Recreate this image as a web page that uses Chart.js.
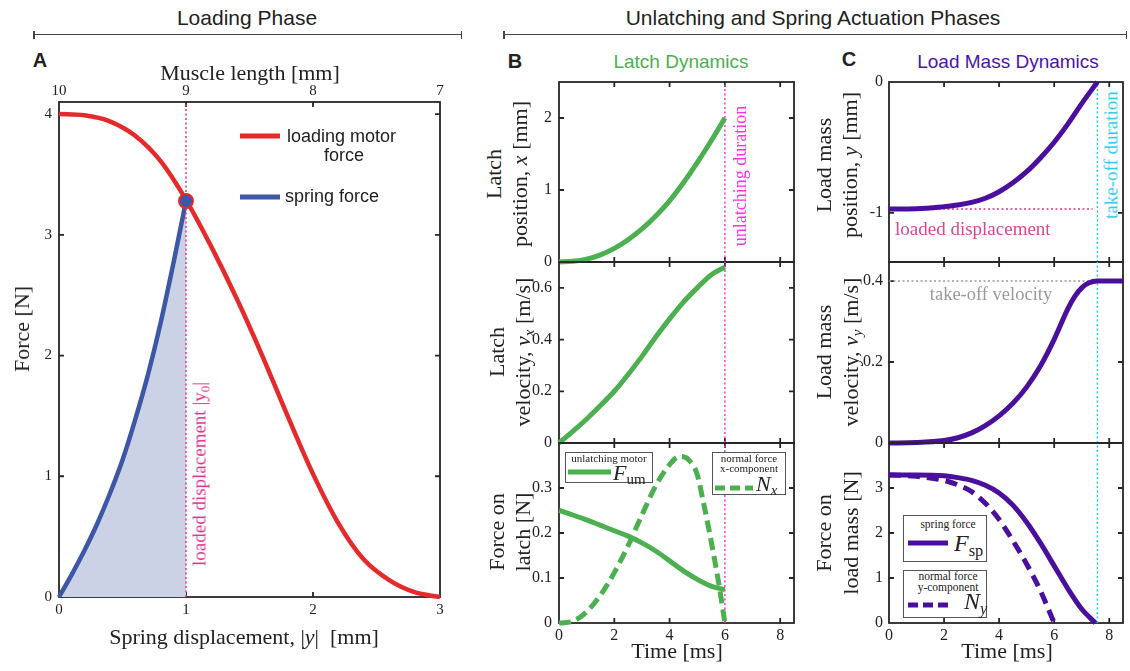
<!DOCTYPE html>
<html>
<head>
<meta charset="utf-8">
<script src="https://cdn.jsdelivr.net/npm/chart.js@4.4.1/dist/chart.umd.min.js"></script>
<style>
  body { margin: 0; background: #fff; width: 1130px; height: 671px; overflow: hidden; position: relative; }
  canvas { position: absolute; }
  sub { font-size: 68%; vertical-align: -0.28em; line-height: 0; }
</style>
</head>
<body>
<script>
// ---- A: loading phase (x = spring displacement, mm) ----
const dispRed = [0, 0.2, 0.4, 0.6, 0.8, 1.0, 1.2, 1.4, 1.6, 1.8, 2.0, 2.2, 2.4, 2.6, 2.8, 3.0];
const motorForce = [4.00, 3.99, 3.94, 3.82, 3.61, 3.29, 2.90, 2.47, 2.00, 1.50, 1.02, 0.61, 0.31, 0.14, 0.04, 0.00];
const dispBlue = [0, 0.1, 0.2, 0.3, 0.4, 0.5, 0.6, 0.7, 0.8, 0.9, 1.0];
const springForce = [0, 0.185, 0.385, 0.605, 0.855, 1.135, 1.47, 1.84, 2.27, 2.76, 3.28];
const loadedDisp = 1.0;
const loadedForce = 3.28;
const dispTicks = [0, 1, 2, 3];
const muscleTicks = [10, 9, 8, 7];
const forceTicksA = [0, 1, 2, 3, 4];

// ---- B: latch dynamics (t in ms) ----
const latchT = [0, 0.5, 1, 1.5, 2, 2.5, 3, 3.5, 4, 4.5, 5, 5.5, 6];
const latchPos = [0, 0.01, 0.04, 0.10, 0.19, 0.31, 0.46, 0.64, 0.85, 1.10, 1.38, 1.68, 2.00];
const latchVel = [0, 0.045, 0.093, 0.145, 0.20, 0.265, 0.335, 0.41, 0.48, 0.545, 0.60, 0.65, 0.68];
const motorFum = [0.25, 0.24, 0.229, 0.217, 0.205, 0.193, 0.178, 0.16, 0.138, 0.116, 0.097, 0.082, 0.074];
const nxT = [0, 0.5, 1, 1.5, 2, 2.5, 3, 3.5, 4, 4.35, 4.7, 5, 5.2, 5.4, 5.6, 5.8, 6];
const normalNx = [0, 0.004, 0.025, 0.062, 0.112, 0.172, 0.24, 0.305, 0.352, 0.37, 0.362, 0.33, 0.275, 0.215, 0.15, 0.08, 0];
const unlatchT = 6;

// ---- C: load mass dynamics ----
const massT = [0, 1, 2, 2.5, 3, 3.5, 4, 4.5, 5, 5.5, 6, 6.5, 7, 7.57];
const massPos = [-0.97, -0.968, -0.952, -0.94, -0.92, -0.888, -0.838, -0.77, -0.685, -0.58, -0.46, -0.32, -0.165, 0];
const velT = [0, 1, 2, 2.5, 3, 3.5, 4, 4.5, 5, 5.5, 6, 6.5, 6.75, 7, 7.25, 7.57, 8.5];
const massVel = [0, 0.001, 0.006, 0.013, 0.025, 0.043, 0.067, 0.098, 0.138, 0.19, 0.256, 0.332, 0.362, 0.383, 0.395, 0.40, 0.40];
const fspT = [0, 1, 2, 2.5, 3, 3.5, 4, 4.5, 5, 5.5, 6, 6.5, 7, 7.5];
const springFsp = [3.29, 3.29, 3.27, 3.23, 3.17, 3.06, 2.89, 2.62, 2.24, 1.78, 1.27, 0.76, 0.31, 0];
const nyT = [0, 0.5, 1, 1.5, 2, 2.5, 3, 3.5, 4, 4.5, 5, 5.5, 6];
const normalNy = [3.29, 3.28, 3.26, 3.22, 3.17, 3.07, 2.92, 2.66, 2.30, 1.83, 1.31, 0.72, 0];
const takeoffT = 7.57;
const takeoffV = 0.40;
const loadedY = -0.97;

const timeTicks = [0, 2, 4, 6, 8];
const timeLabels = ['0', '2', '4', '6', '8'];

const SERIF = "'Liberation Serif', 'Times New Roman', serif";
const SANS = "'Liberation Sans', Arial, sans-serif";
const RED = '#e62a2b', BLUE = '#3d56a6', FILL = '#cbd2e6';
const GREEN = '#4caf50', PURPLE = '#4a0f9c';
const PINK = '#e0338f', MAGENTA = '#ff33dd', CYAN = '#2ec5ec', GRAY = '#9a9a9a';

Chart.defaults.font.family = SERIF;
Chart.defaults.color = '#222';

// box frame with inward ticks on all four sides
const frame = {
  id: 'frame',
  beforeDatasetsDraw(chart, args, o) {
    const { ctx, chartArea: a, scales } = chart;
    const tl = 5;
    ctx.save();
    ctx.strokeStyle = '#262626';
    ctx.lineWidth = 1.8;
    ctx.beginPath();
    o.xt.forEach(v => {
      const p = scales.x.getPixelForValue(v);
      ctx.moveTo(p, a.bottom); ctx.lineTo(p, a.bottom - tl);
      ctx.moveTo(p, a.top); ctx.lineTo(p, a.top + tl);
    });
    o.yt.forEach(v => {
      const p = scales.y.getPixelForValue(v);
      ctx.moveTo(a.left, p); ctx.lineTo(a.left + tl, p);
      ctx.moveTo(a.right, p); ctx.lineTo(a.right - tl, p);
    });
    ctx.stroke();
    ctx.strokeRect(a.left, a.top, a.right - a.left, a.bottom - a.top);
    ctx.restore();
  }
};

const pts = (xs, ys) => xs.map((x, i) => ({ x, y: ys[i] }));

function curve(data, color, width, dash) {
  return { data, borderColor: color, borderWidth: width, borderDash: dash || [], pointRadius: 0,
    fill: false, cubicInterpolationMode: 'monotone', clip: false, borderCapStyle: 'butt' };
}
function refLine(data, color) {
  return { data, borderColor: color, borderWidth: 1.5, borderDash: [2, 2.5], pointRadius: 0,
    tension: 0, fill: false, clip: false };
}

function linScale(pos, s, size, fs, pad) {
  const horiz = pos === 'bottom' || pos === 'top';
  return {
    type: 'linear', position: pos, min: s.min, max: s.max, reverse: !!s.reverse,
    grid: { display: false, drawTicks: false }, border: { display: false },
    ticks: { display: !!s.labels, padding: pad, font: { size: fs, family: SERIF }, color: '#222',
      maxRotation: 0, autoSkip: false, callback: (v, i) => (s.labels ? s.labels[i] : '') },
    afterBuildTicks: sc => { sc.ticks = s.ticks.map(v => ({ value: v })); },
    afterFit: sc => {
      if (horiz) { sc.height = size; sc.paddingLeft = 0; sc.paddingRight = 0; }
      else { sc.width = size; sc.paddingTop = 0; sc.paddingBottom = 0; }
    }
  };
}

function plot(box, m, xs, ys, datasets, o) {
  const cv = document.createElement('canvas');
  const w = box.r - box.l + m.l + m.r, h = box.b - box.t + m.t + m.b;
  cv.width = w; cv.height = h;
  cv.style.left = (box.l - m.l) + 'px'; cv.style.top = (box.t - m.t) + 'px';
  cv.style.width = w + 'px'; cv.style.height = h + 'px';
  document.body.appendChild(cv);
  const scales = {
    x: linScale('bottom', xs, m.b, o.fs, o.xpad),
    y: linScale('left', ys, m.l, o.fs, o.ypad)
  };
  if (o.top) scales.x2 = linScale('top', o.top, m.t, o.fs, 2);
  return new Chart(cv, {
    type: 'line',
    data: { datasets },
    plugins: [frame],
    options: {
      responsive: false, animation: false,
      layout: { padding: { top: o.top ? 0 : m.t, right: m.r, left: 0, bottom: 0 } },
      plugins: { legend: { display: false }, tooltip: { enabled: false },
        frame: { xt: xs.ticks.filter(v => v > xs.min && v < xs.max), yt: ys.ticks.filter(v => v > ys.min && v < ys.max) } },
      scales
    }
  });
}

// ---------- panel A ----------
plot({ l: 59, t: 102, r: 441, b: 597 }, { l: 45, t: 30, r: 8, b: 28 },
  { min: 0, max: 3, ticks: dispTicks, labels: dispTicks.map(String) },
  { min: 0, max: 4.1, ticks: forceTicksA, labels: forceTicksA.map(String) },
  [
    { data: [{ x: loadedDisp, y: loadedForce }], pointRadius: 7, pointBackgroundColor: BLUE,
      pointBorderColor: RED, pointBorderWidth: 2, showLine: false, clip: false },
    refLine([{ x: loadedDisp, y: 0 }, { x: loadedDisp, y: 4.1 }], PINK),
    Object.assign(curve(pts(dispBlue, springForce), BLUE, 4.5), { fill: 'origin', backgroundColor: FILL }),
    curve(pts(dispRed, motorForce), RED, 4.5)
  ],
  { fs: 15, xpad: 4, ypad: 7, top: { min: 7, max: 10, reverse: true, ticks: muscleTicks, labels: muscleTicks.map(String) } });

// ---------- panel B ----------
const BX = { l: 559, r: 794 };
const mB = { l: 50, t: 10, r: 8, b: 12 };
plot({ l: BX.l, r: BX.r, t: 82, b: 262 }, mB,
  { min: 0, max: 8.5, ticks: timeTicks },
  { min: 0, max: 2.5, ticks: [0, 1, 2], labels: ['0', '1', '2'] },
  [curve(pts(latchT, latchPos), GREEN, 5),
   refLine([{ x: unlatchT, y: 0 }, { x: unlatchT, y: 2.5 }], MAGENTA)],
  { fs: 16, xpad: 3, ypad: 7 });
plot({ l: BX.l, r: BX.r, t: 262, b: 443 }, mB,
  { min: 0, max: 8.5, ticks: timeTicks },
  { min: 0, max: 0.7, ticks: [0, 0.2, 0.4, 0.6], labels: ['0', '0.2', '0.4', '0.6'] },
  [curve(pts(latchT, latchVel), GREEN, 5),
   refLine([{ x: unlatchT, y: 0 }, { x: unlatchT, y: 0.7 }], MAGENTA)],
  { fs: 16, xpad: 3, ypad: 7 });
plot({ l: BX.l, r: BX.r, t: 443, b: 623 }, { l: 50, t: 10, r: 8, b: 26 },
  { min: 0, max: 8.5, ticks: timeTicks, labels: timeLabels },
  { min: 0, max: 0.4, ticks: [0, 0.1, 0.2, 0.3], labels: ['0', '0.1', '0.2', '0.3'] },
  [curve(pts(latchT, motorFum), GREEN, 5),
   curve(pts(nxT, normalNx), GREEN, 5, [12, 6]),
   refLine([{ x: unlatchT, y: 0 }, { x: unlatchT, y: 0.4 }], MAGENTA)],
  { fs: 16, xpad: 3, ypad: 7 });

// ---------- panel C ----------
const CX = { l: 889, r: 1123 };
const mC = { l: 50, t: 10, r: 6, b: 12 };
plot({ l: CX.l, r: CX.r, t: 82, b: 262 }, mC,
  { min: 0, max: 8.5, ticks: timeTicks },
  { min: -1.375, max: 0, ticks: [-1, 0], labels: ['-1', '0'] },
  [curve(pts(massT, massPos), PURPLE, 5),
   refLine([{ x: 0, y: loadedY }, { x: 7.4, y: loadedY }], PINK),
   refLine([{ x: takeoffT, y: -1.375 }, { x: takeoffT, y: 0 }], CYAN)],
  { fs: 16, xpad: 3, ypad: 6 });
plot({ l: CX.l, r: CX.r, t: 262, b: 443 }, mC,
  { min: 0, max: 8.5, ticks: timeTicks },
  { min: 0, max: 0.447, ticks: [0, 0.2, 0.4], labels: ['0', '0.2', '0.4'] },
  [curve(pts(velT, massVel), PURPLE, 5),
   refLine([{ x: 0, y: takeoffV }, { x: takeoffT, y: takeoffV }], GRAY),
   refLine([{ x: takeoffT, y: 0 }, { x: takeoffT, y: 0.447 }], CYAN)],
  { fs: 16, xpad: 3, ypad: 6 });
plot({ l: CX.l, r: CX.r, t: 443, b: 623 }, { l: 50, t: 10, r: 6, b: 26 },
  { min: 0, max: 8.5, ticks: timeTicks, labels: timeLabels },
  { min: 0, max: 4, ticks: [0, 1, 2, 3], labels: ['0', '1', '2', '3'] },
  [curve(pts(fspT, springFsp), PURPLE, 5),
   curve(pts(nyT, normalNy), PURPLE, 5, [12, 7]),
   refLine([{ x: takeoffT, y: 0 }, { x: takeoffT, y: 4 }], CYAN)],
  { fs: 16, xpad: 3, ypad: 6 });

// ---------- text and decorations ----------
function text(html, x, y, o) {
  o = o || {};
  const d = document.createElement('div');
  d.innerHTML = html;
  const tx = o.align === 'left' ? '0' : '-50%';
  Object.assign(d.style, {
    position: 'absolute', left: x + 'px', top: y + 'px', whiteSpace: 'nowrap', lineHeight: '1',
    fontFamily: o.sans ? SANS : SERIF, fontSize: (o.size || 22) + 'px', color: o.color || '#222',
    fontWeight: o.bold ? 'bold' : 'normal',
    transform: 'translate(' + tx + ',-50%)' + (o.rot ? ' rotate(-90deg)' : '')
  });
  document.body.appendChild(d);
}
function rect(x, y, w, h, css) {
  const d = document.createElement('div');
  Object.assign(d.style, { position: 'absolute', left: x + 'px', top: y + 'px', width: w + 'px', height: h + 'px', boxSizing: 'border-box' }, css);
  document.body.appendChild(d);
}
function sample(x, y, w, color, dash) {
  const ns = 'http://www.w3.org/2000/svg';
  const s = document.createElementNS(ns, 'svg');
  s.setAttribute('width', w); s.setAttribute('height', 8);
  Object.assign(s.style, { position: 'absolute', left: x + 'px', top: (y - 4) + 'px' });
  const l = document.createElementNS(ns, 'line');
  [['x1', 0], ['y1', 4], ['x2', w], ['y2', 4], ['stroke', color], ['stroke-width', 5]].forEach(a => l.setAttribute(a[0], a[1]));
  if (dash) l.setAttribute('stroke-dasharray', dash);
  s.appendChild(l);
  document.body.appendChild(s);
}
function bracket(x1, x2, y) {
  rect(x1, y - 0.75, x2 - x1, 1.5, { background: '#444' });
  rect(x1, y - 4, 1.5, 8, { background: '#444' });
  rect(x2 - 1.5, y - 4, 1.5, 8, { background: '#444' });
}

text('Loading Phase', 247, 17, { sans: true, size: 21 });
text('Unlatching and Spring Actuation Phases', 813, 17, { sans: true, size: 21 });
bracket(33, 462, 34.5);
bracket(503, 1127, 34.5);

text('A', 40, 60, { sans: true, bold: true, size: 20 });
text('B', 515, 61, { sans: true, bold: true, size: 20 });
text('C', 849, 59, { sans: true, bold: true, size: 20 });
text('Latch Dynamics', 681, 61, { sans: true, size: 19, color: GREEN });
text('Load Mass Dynamics', 1008, 61, { sans: true, size: 19, color: '#4b14a8' });

// panel A labels
text('Muscle length [mm]', 250, 73);
text('Force [N]', 22, 329, { rot: true });
text('Spring displacement, |<i>y</i>| &nbsp;[mm]', 244, 637);
sample(240, 136, 40, RED);
text('loading motor', 287, 136, { sans: true, size: 18, align: 'left' });
text('force', 344, 155, { sans: true, size: 18 });
sample(240, 197, 40, BLUE);
text('spring force', 285, 196, { sans: true, size: 18, align: 'left' });
text('loaded displacement |y<sub>0</sub>|', 199, 474, { rot: true, size: 19, color: PINK });

// panel B labels
text('Latch', 494, 174, { rot: true });
text('position, <i>x</i> [mm]', 520, 174, { rot: true });
text('Latch', 497, 352, { rot: true });
text('velocity, <i>v<sub>x</sub></i> [m/s]', 523, 352, { rot: true });
text('Force on', 497, 532, { rot: true });
text('latch [N]', 523, 532, { rot: true });
text('Time [ms]', 677, 651);
text('unlatching duration', 740, 176, { rot: true, size: 18, color: MAGENTA });

rect(565, 452, 88, 31, { background: '#fff', border: '1.3px solid #555' });
text('unlatching motor', 609, 458, { size: 11 });
sample(568, 472, 43, GREEN);
text('<i>F</i><sub>um</sub>', 613, 473, { size: 22, align: 'left' });
rect(712, 452, 74, 43, { background: '#fff', border: '1.3px solid #555' });
text('normal force', 749, 458, { size: 11 });
text('x-component', 749, 468, { size: 11 });
sample(715, 488, 38, GREEN, '10,5');
text('<i>N<sub>x</sub></i>', 756, 484, { size: 22, align: 'left' });

// panel C labels
text('Load mass', 824, 165, { rot: true });
text('position, <i>y</i> [mm]', 850, 165, { rot: true });
text('Load mass', 824, 352, { rot: true });
text('velocity, <i>v<sub>y</sub></i> [m/s]', 851, 352, { rot: true });
text('Force on', 824, 533, { rot: true });
text('load mass [N]', 851, 533, { rot: true });
text('Time [ms]', 1007, 651);
text('take-off duration', 1111, 155, { rot: true, size: 19, color: CYAN });
text('loaded displacement', 895, 228, { size: 19, color: '#d9488c', align: 'left' });
text('take-off velocity', 991, 294, { size: 18.5, color: GRAY });

rect(903, 515, 84, 47, { background: '#fff', border: '1.3px solid #555' });
text('spring force', 948, 525, { size: 11.5 });
sample(908, 543, 40, PURPLE);
text('<i>F</i><sub>sp</sub>', 954, 543, { size: 24, align: 'left' });
rect(903, 570, 84, 48, { background: '#fff', border: '1.3px solid #555' });
text('normal force', 948, 577, { size: 11.5 });
text('y-component', 948, 588, { size: 11.5 });
sample(908, 605, 40, PURPLE, '10,5');
text('<i>N<sub>y</sub></i>', 964, 601, { size: 24, align: 'left' });
</script>
</body>
</html>
